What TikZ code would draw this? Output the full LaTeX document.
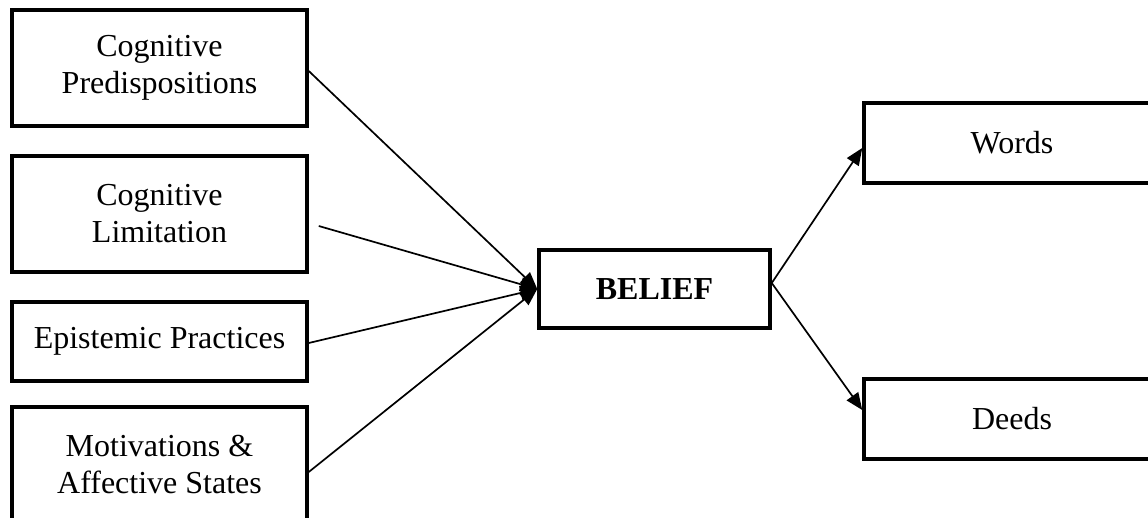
\documentclass[tikz,border=0pt]{standalone}
\usepackage{fontspec}
\setmainfont{Liberation Serif}
\usetikzlibrary{arrows.meta}

\tikzset{
  factor/.style={draw, line width=3.5pt, rectangle, align=center,
    font=\fontsize{32}{37}\selectfont, inner sep=0pt},
  link/.style={line width=1.7pt, -{Triangle[length=17pt, width=14pt]}},
}

\begin{document}
\begin{tikzpicture}[x=1pt, y=-1pt]
  \useasboundingbox (0,0) rectangle (1148,518);
  \clip (0,0) rectangle (1148,518);

  % influences on belief
  \node[factor, minimum width=295pt, minimum height=116pt] (pre) at (159.5,68) {Cognitive\\Predispositions};
  \node[factor, minimum width=295pt, minimum height=116pt] (lim) at (159.5,214) {Cognitive\\Limitation};
  \node[factor, minimum width=295pt, minimum height=79pt] (epi) at (159.5,341.5) {Epistemic Practices};
  \node[factor, minimum width=295pt, minimum height=116pt] (mot) at (159.5,465) {Motivations \&\\Affective States};

  % belief
  \node[factor, minimum width=231pt, minimum height=78pt, font=\fontsize{32}{37}\selectfont\bfseries] (bel) at (654.5,289) {BELIEF};

  % outcomes
  \node[factor, minimum width=296pt, minimum height=80pt] (wor) at (1012,143) {Words};
  \node[factor, minimum width=296pt, minimum height=80pt] (dee) at (1012,419) {Deeds};

  % connectors
  \draw[link] ([yshift=-3pt]pre.east) -- (bel.west);
  \draw[link] ([xshift=10pt,yshift=-12pt]lim.east) -- (bel.west);
  \draw[link] ([yshift=-1.5pt]epi.east) -- (bel.west);
  \draw[link] ([yshift=-7pt]mot.east) -- (bel.west);
  \draw[link] ([yshift=6pt]bel.east) -- ([yshift=-5pt]wor.west);
  \draw[link] ([yshift=6pt]bel.east) -- ([yshift=9pt]dee.west);
\end{tikzpicture}
\end{document}
